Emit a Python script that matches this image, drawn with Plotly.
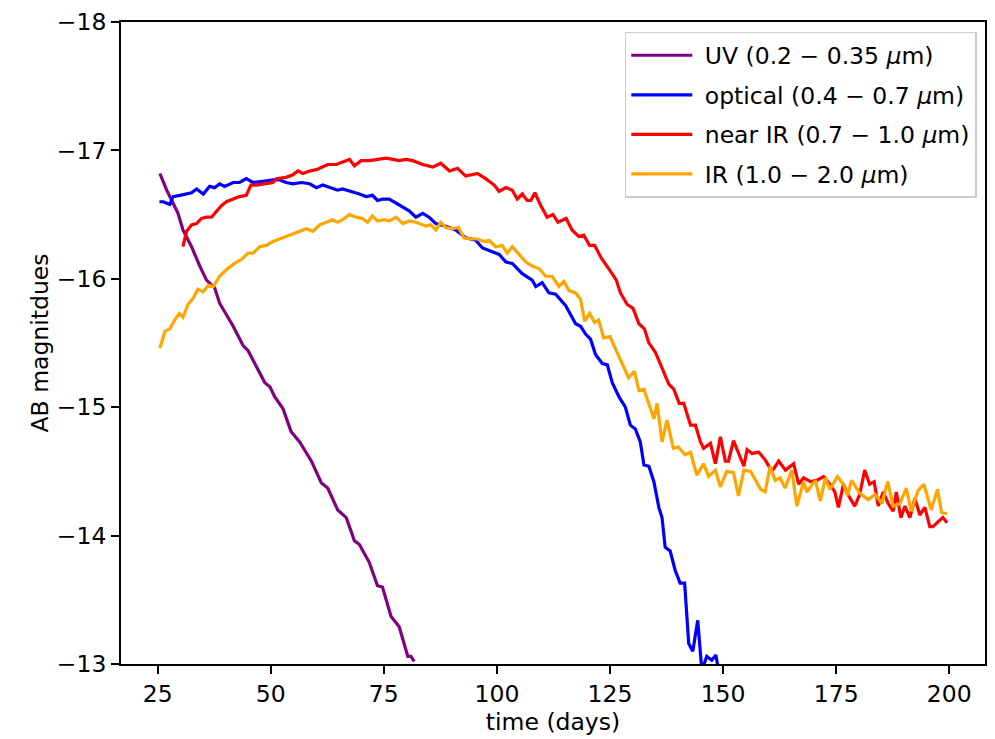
import plotly.graph_objects as go

# ---- data ----
t_uv = [25.5, 27.0, 28.4, 29.5, 30.6, 32.5, 34.3, 35.8, 37.6, 38.7, 41.7, 43.9, 45.0, 46.8,
        48.7, 49.8, 50.9, 52.7, 54.5, 56.4, 59.0, 61.2, 62.6, 64.8, 66.7, 68.5, 69.6, 71.8,
        73.6, 74.7, 76.6, 78.4, 80.3, 81.0, 81.7]
m_uv = [-16.82, -16.69, -16.59, -16.51, -16.38, -16.25, -16.10, -15.99, -15.93, -15.81, -15.63,
        -15.48, -15.44, -15.32, -15.19, -15.16, -15.08, -14.99, -14.81, -14.73, -14.58, -14.41,
        -14.37, -14.20, -14.14, -13.96, -13.93, -13.79, -13.61, -13.60, -13.37, -13.29, -13.06,
        -13.06, -13.02]

t_opt = [25.4, 26.2, 27.7, 28.4, 29.9, 31.4, 32.5, 33.6, 35.1, 36.5, 37.6, 38.7, 39.8, 41.7,
         43.1, 44.6, 46.1, 48.3, 50.5, 52.0, 53.4, 54.9, 56.8, 58.6, 60.1, 61.5, 63.0, 64.8,
         65.9, 68.1, 69.6, 71.1, 72.5, 73.6, 74.7, 76.2, 77.7, 79.2, 80.6, 82.1, 83.6, 85.0,
         86.5, 88.7, 90.9, 93.1, 95.3, 96.8, 99.0, 100.5, 102.0, 103.4, 105.6, 107.8, 108.6,
         110.0, 111.5, 113.0, 115.2, 117.4, 118.5, 119.6, 120.7, 121.8, 123.3, 124.4, 125.5,
         127.0, 128.4, 129.5, 130.6, 131.7, 132.5, 133.6, 134.7, 135.8, 136.5, 137.2, 138.3,
         139.4, 140.5, 141.5, 142.0, 142.4, 143.3, 144.4, 145.3, 146.4, 147.5, 148.4, 149.0]
m_opt = [-16.60, -16.60, -16.58, -16.64, -16.65, -16.66, -16.67, -16.70, -16.66, -16.72, -16.71,
         -16.74, -16.72, -16.75, -16.75, -16.78, -16.75, -16.76, -16.77, -16.77, -16.75, -16.74,
         -16.75, -16.74, -16.71, -16.73, -16.71, -16.69, -16.70, -16.68, -16.66, -16.64, -16.65,
         -16.61, -16.62, -16.62, -16.59, -16.56, -16.53, -16.48, -16.51, -16.48, -16.43, -16.41,
         -16.38, -16.32, -16.30, -16.24, -16.21, -16.19, -16.13, -16.12, -16.04, -15.99, -15.94,
         -15.97, -15.89, -15.88, -15.79, -15.65, -15.63, -15.57, -15.53, -15.41, -15.34, -15.33,
         -15.19, -15.08, -15.00, -14.86, -14.83, -14.73, -14.55, -14.54, -14.42, -14.22, -14.14,
         -13.91, -13.88, -13.73, -13.63, -13.63, -13.37, -13.16, -13.10, -13.34, -12.95, -13.06,
         -13.03, -13.07, -12.95]

t_nir = [30.6, 31.4, 32.5, 33.6, 34.7, 35.8, 36.9, 38.0, 39.1, 40.2, 41.7, 43.1, 44.6, 45.6,
         46.8, 48.3, 50.5, 51.2, 53.4, 54.9, 56.0, 57.1, 58.6, 60.1, 61.5, 62.6, 64.5, 65.9,
         67.4, 68.5, 70.0, 71.8, 73.3, 75.5, 77.0, 78.4, 79.9, 81.4, 83.6, 85.8, 87.6, 89.5,
         91.3, 93.1, 95.7, 97.5, 99.4, 100.5, 102.0, 103.4, 104.5, 105.6, 106.7, 107.5, 108.4,
         109.7, 111.1, 112.4, 113.5, 115.3, 116.6, 118.1, 119.2, 120.5, 121.6, 123.1, 124.9,
         126.4, 127.3, 128.8, 130.1, 131.4, 132.6, 133.6, 135.0, 136.5, 138.0, 139.1, 140.3,
         141.3, 142.8, 143.9, 145.0, 145.7, 147.2, 148.3, 149.4, 150.5, 151.2, 152.3, 153.8,
         154.6, 155.3, 156.4, 157.9, 159.3, 160.8, 162.3, 163.8, 165.6, 166.7, 167.8, 169.3,
         170.7, 172.2, 173.6, 174.7, 175.5, 176.6, 177.6, 179.1, 180.2, 181.3, 182.4, 183.4,
         184.3, 185.4, 186.5, 187.6, 188.3, 189.3, 190.2, 191.3, 192.4, 193.5, 194.6, 195.7,
         196.4, 197.9, 198.6, 199.5]
m_nir = [-16.25, -16.37, -16.42, -16.43, -16.47, -16.48, -16.48, -16.53, -16.57, -16.60, -16.62,
         -16.64, -16.65, -16.73, -16.73, -16.74, -16.75, -16.78, -16.79, -16.81, -16.84, -16.82,
         -16.84, -16.85, -16.87, -16.89, -16.89, -16.91, -16.93, -16.88, -16.92, -16.92, -16.93,
         -16.94, -16.93, -16.92, -16.93, -16.92, -16.89, -16.87, -16.90, -16.84, -16.86, -16.80,
         -16.82, -16.78, -16.73, -16.68, -16.71, -16.69, -16.62, -16.66, -16.61, -16.61, -16.67,
         -16.57, -16.48, -16.50, -16.44, -16.47, -16.38, -16.33, -16.34, -16.26, -16.26, -16.16,
         -16.07, -15.99, -15.89, -15.80, -15.77, -15.65, -15.61, -15.50, -15.43, -15.31, -15.18,
         -15.14, -15.03, -15.03, -14.86, -14.86, -14.73, -14.68, -14.72, -14.56, -14.77, -14.58,
         -14.58, -14.74, -14.61, -14.54, -14.67, -14.64, -14.65, -14.59, -14.50, -14.58, -14.51,
         -14.56, -14.40, -14.45, -14.42, -14.43, -14.46, -14.40, -14.34, -14.22, -14.40, -14.32,
         -14.23, -14.32, -14.51, -14.40, -14.42, -14.23, -14.34, -14.25, -14.19, -14.34, -14.14,
         -14.23, -14.14, -14.29, -14.16, -14.22, -14.07, -14.07, -14.12, -14.14, -14.10]

t_ir = [25.5, 26.6, 27.7, 28.8, 29.8, 30.6, 31.7, 32.9, 33.9, 35.1, 36.2, 37.3, 38.7, 40.2,
        42.0, 43.5, 45.0, 46.1, 47.6, 49.0, 50.5, 52.0, 53.4, 54.9, 56.4, 57.9, 59.3, 60.8,
        62.3, 63.7, 64.8, 65.9, 67.4, 68.9, 70.3, 71.4, 72.5, 73.6, 75.1, 76.2, 77.7, 79.2,
        80.6, 82.1, 84.3, 85.4, 86.5, 87.6, 88.7, 90.2, 91.5, 92.7, 94.2, 95.7, 97.2, 98.3,
        99.7, 101.2, 102.3, 103.4, 104.9, 106.4, 107.8, 109.3, 110.8, 112.2, 113.7, 114.8,
        115.9, 117.4, 118.5, 119.4, 120.5, 121.6, 122.5, 123.6, 125.0, 126.5, 128.0, 129.1,
        130.4, 131.4, 132.5, 133.6, 134.7, 135.4, 136.5, 137.6, 139.0, 140.1, 141.6, 142.8,
        144.2, 145.7, 146.8, 148.3, 149.4, 150.8, 152.3, 153.4, 154.6, 156.1, 158.3, 159.3,
        160.4, 161.5, 162.6, 163.7, 165.2, 166.3, 167.8, 168.5, 170.4, 171.5, 172.6, 173.6,
        175.3, 176.6, 177.5, 178.4, 180.2, 182.1, 183.6, 185.1, 186.4, 187.6, 189.1, 190.5,
        191.6, 193.1, 194.4, 196.0, 197.4, 198.3, 199.5]
m_ir = [-15.46, -15.59, -15.61, -15.68, -15.73, -15.70, -15.80, -15.85, -15.92, -15.90, -15.95,
        -15.94, -16.02, -16.07, -16.12, -16.15, -16.20, -16.20, -16.25, -16.26, -16.29, -16.31,
        -16.33, -16.35, -16.37, -16.39, -16.37, -16.42, -16.44, -16.46, -16.44, -16.46, -16.50,
        -16.48, -16.47, -16.44, -16.49, -16.45, -16.46, -16.45, -16.48, -16.43, -16.45, -16.44,
        -16.41, -16.42, -16.38, -16.44, -16.40, -16.39, -16.40, -16.32, -16.31, -16.31, -16.29,
        -16.30, -16.25, -16.26, -16.20, -16.25, -16.19, -16.13, -16.10, -16.08, -16.02, -16.02,
        -15.94, -15.98, -15.91, -15.89, -15.84, -15.67, -15.73, -15.66, -15.68, -15.54, -15.55,
        -15.43, -15.31, -15.23, -15.28, -15.13, -15.14, -15.03, -14.91, -15.03, -14.73, -14.90,
        -14.68, -14.69, -14.63, -14.65, -14.47, -14.56, -14.46, -14.51, -14.38, -14.50, -14.49,
        -14.31, -14.51, -14.50, -14.36, -14.34, -14.54, -14.43, -14.45, -14.37, -14.51, -14.23,
        -14.42, -14.34, -14.43, -14.27, -14.45, -14.36, -14.46, -14.40, -14.31, -14.43, -14.33,
        -14.28, -14.32, -14.25, -14.42, -14.23, -14.25, -14.37, -14.19, -14.35, -14.40, -14.20,
        -14.36, -14.18, -14.17]

y_ticks = [-18, -17, -16, -15, -14, -13]
y_ticktext = ["\u221218", "\u221217", "\u221216", "\u221215", "\u221214", "\u221213"]
x_ticks = [25, 50, 75, 100, 125, 150, 175, 200]

series = [
    ("\u00a0UV (0.2 \u2212 0.35 <i>\u03bc</i>m)", t_uv, m_uv, "purple"),
    ("\u00a0optical (0.4 \u2212 0.7 <i>\u03bc</i>m)", t_opt, m_opt, "blue"),
    ("\u00a0near IR (0.7 \u2212 1.0 <i>\u03bc</i>m)", t_nir, m_nir, "red"),
    ("\u00a0IR (1.0 \u2212 2.0 <i>\u03bc</i>m)", t_ir, m_ir, "orange"),
]

FONT = "DejaVu Sans"
FS = 23.5
fig = go.Figure()
for i, (name, t, m, col) in enumerate(series):
    fig.add_trace(go.Scatter(x=t, y=m, mode="lines", name=name, legendgroup=f"g{i}",
                             line=dict(color=col, width=3.2)))

fig.update_layout(
    width=995, height=739,
    margin=dict(l=121, r=8, t=17, b=75),
    paper_bgcolor="white", plot_bgcolor="white",
    font=dict(family=FONT, size=FS, color="black"),
    showlegend=True,
    legend=dict(x=0.9905, y=0.9845, xanchor="right", yanchor="top",
                bgcolor="rgba(255,255,255,0.8)", bordercolor="#cccccc", borderwidth=1.5,
                font=dict(family=FONT, size=FS), tracegroupgap=6, traceorder="grouped",
                itemwidth=61),
    xaxis=dict(range=[16.9, 207.9], tickvals=x_ticks, showgrid=False, zeroline=False,
               showline=True, linecolor="black", linewidth=1.9, mirror=True,
               ticks="outside", ticklen=8, tickwidth=1.9, tickcolor="black",
               tickfont=dict(family=FONT, size=FS, color="black"),
               title=dict(text="time (days)", standoff=4, font=dict(size=FS))),
    yaxis=dict(range=[-13, -18], tickvals=y_ticks, ticktext=y_ticktext, showgrid=False,
               zeroline=False, showline=True, linecolor="black", linewidth=1.9, mirror=True,
               ticks="outside", ticklen=8, tickwidth=1.9, tickcolor="black",
               tickfont=dict(family=FONT, size=FS, color="black"),
               title=dict(text="AB magnitdues", standoff=2, font=dict(size=FS))),
)

fig.write_html("out.html")
